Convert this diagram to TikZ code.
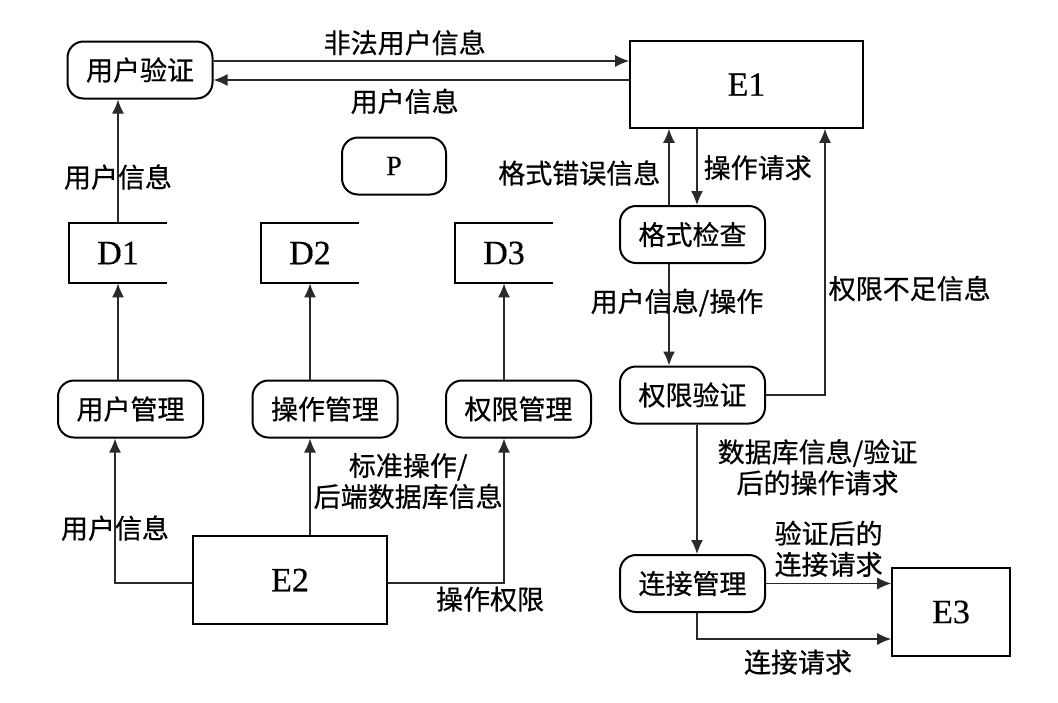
\documentclass[tikz,border=0pt]{standalone}
\usepackage{fontspec}
\setmainfont[FakeBold=0.4]{Liberation Serif}
\newfontfamily\cjk[FakeBold=0.6]{Noto Sans CJK SC}
\usepackage{tikz}
\usetikzlibrary{calc,positioning,arrows.meta}
\definecolor{lineGray}{HTML}{2A2A2A}

\begin{document}
\begin{tikzpicture}[
    x=0.5pt, y=-0.5pt,
    proc/.style={rectangle, rounded corners=8pt, draw=black, line width=1pt,
                 minimum width=72.5pt, minimum height=28.5pt, inner sep=2pt,
                 font=\cjk\fontsize{13.5}{15.5}\selectfont},
    extent/.style={rectangle, draw=black, line width=0.8pt, inner sep=2pt,
                   font=\fontsize{17}{19}\selectfont},
    store/.style={rectangle, minimum width=49pt, minimum height=30pt, inner sep=0pt,
                  font=\fontsize{17}{19}\selectfont,
                  append after command={\pgfextra{\draw[line width=1pt]
                    (\tikzlastnode.north east) -- (\tikzlastnode.north west)
                    -- (\tikzlastnode.south west) -- (\tikzlastnode.south east);}}},
    arrow/.style={-{Latex[length=7pt, width=6pt]}, line width=0.7pt, lineGray},
    lbl/.style={font=\cjk\fontsize{13.5}{15.5}\selectfont, text=black, inner sep=4pt, align=center},
]
    \useasboundingbox (0,0) rectangle (1058,702);

    \node[proc] (uauth) at (140,70) {用户验证};
    \node[extent, minimum width=116.5pt, minimum height=43.5pt] (e1) at (746.5,84.5) {E1};
    \node[proc, minimum width=52pt, font=\fontsize{14}{16}\selectfont] (p) at (394,166) {P};

    \node[store] (d1) at (118,253) {D1};
    \node[store] (d2) at (310,253) {D2};
    \node[store] (d3) at (504,253) {D3};

    \node[proc] (umgmt) at (130.5,409) {用户管理};
    \node[proc] (omgmt) at (325,409) {操作管理};
    \node[proc] (pmgmt) at (518.5,409) {权限管理};

    \node[extent, minimum width=97pt, minimum height=44pt] (e2) at (290,580) {E2};

    \node[proc] (fmt) at (692.5,234.5) {格式检查};
    \node[proc] (pauth) at (692.5,395) {权限验证};
    \node[proc] (conn) at (692.5,583.5) {连接管理};
    \node[extent, minimum width=59pt, minimum height=44pt] (e3) at (951,612) {E3};

    \draw[arrow] ([yshift=4.5pt]uauth.east) -- node[lbl, above, pos=0.46, inner sep=2.5pt] {非法用户信息} ([yshift=4.5pt]uauth.east -| e1.west);
    \draw[arrow] ([yshift=-5pt]uauth.east -| e1.west) -- node[lbl, below, pos=0.54] {用户信息} ([yshift=-5pt]uauth.east);
    \draw[arrow] (d1.north) -- node[lbl, pos=0.37] {用户信息} (d1.north |- uauth.south);

    \draw[arrow] (umgmt.north -| d1.south) -- (d1.south);
    \draw[arrow] (omgmt.north -| d2.south) -- (d2.south);
    \draw[arrow] (pmgmt.north -| d3.south) -- (d3.south);

    \draw[arrow] ([yshift=-1.5pt]e2.west) -| node[lbl, pos=0.69] {用户信息} ([xshift=-1.5pt]umgmt.south -| d1.south);
    \draw[arrow] (e2.north -| d2.south) -- node[lbl, right, pos=0.56, inner sep=1.5pt] {标准操作/\\后端数据库信息} (omgmt.south -| d2.south);
    \draw[arrow] ([yshift=-1.5pt]e2.east) -| node[lbl, below, pos=0.44, inner sep=1.5pt] {操作权限} (pmgmt.south -| d3.south);

    \draw[arrow] ([xshift=-11.75pt]fmt.north) -- node[lbl, left, pos=0.42] {格式错误信息} ([xshift=-11.75pt]fmt.north |- e1.south);
    \draw[arrow] ([xshift=2.25pt]fmt.north |- e1.south) -- node[lbl, right, pos=0.51, inner sep=3pt] {操作请求} ([xshift=2.25pt]fmt.north);
    \draw[arrow] ([xshift=-11.75pt]fmt.south) -- node[lbl, pos=0.38, xshift=4pt] {用户信息/操作} ([xshift=-11.75pt]pauth.north);
    \draw[arrow] (pauth.east) -| node[lbl, right, pos=0.7, inner sep=1.5pt] {权限不足信息} ([xshift=39.25pt]e1.south);
    \draw[arrow] ([xshift=2.25pt]pauth.south) -- node[lbl, right, pos=0.33, inner sep=10pt] {数据库信息/验证\\后的操作请求} ([xshift=2.25pt]conn.north);
    \draw[arrow] (conn.east) -- node[lbl, above, inner sep=3pt] {验证后的\\连接请求} (conn.east -| e3.west);
    \draw[arrow] ([xshift=2.25pt]conn.south) |- node[lbl, below, pos=0.76, inner sep=5pt] {连接请求} ([yshift=-13.5pt]e3.west);
\end{tikzpicture}
\end{document}
